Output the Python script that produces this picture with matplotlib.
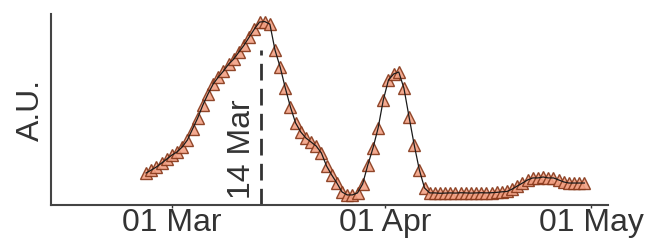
import numpy as np
import pandas as pd
import matplotlib
matplotlib.use("Agg")
import matplotlib.pyplot as plt
import matplotlib.dates as mdates

plt.rcParams["font.family"] = ["Liberation Sans", "DejaVu Sans"]

# muestras cada 18 h, desde el 26 Feb 06:00
start = "2020-02-26 06:00"
step_hours = 18
values = [17.5, 19.1, 20.8, 22.9, 25.1, 27.3, 29.0, 31.7, 35.5, 41.5,
          47.5, 54.6, 60.7, 66.1, 69.9, 73.2, 77.0, 79.8, 83.6, 87.4,
          91.8, 96.2, 100.0, 100.3, 98.9, 84.7, 75.4, 63.9, 53.5, 44.8,
          39.9, 36.6, 34.4, 32.2, 28.4, 21.3, 16.4, 12.0, 7.1, 5.5,
          5.5, 6.6, 11.5, 21.9, 31.1, 42.1, 57.4, 68.3, 71.6, 72.7,
          63.9, 48.1, 32.8, 19.1, 9.3, 6.6, 6.6, 6.4, 6.5, 6.6,
          6.5, 6.7, 6.6, 6.5, 6.6, 6.7, 6.6, 6.7, 6.9, 7.2,
          7.4, 8.7, 10.4, 12.0, 13.7, 14.8, 14.8, 15.3, 14.8, 14.8,
          13.7, 12.6, 12.0, 12.0, 12.0, 12.0]
dates = pd.date_range(start, periods=len(values), freq=f"{step_hours}h")

marker_date = pd.Timestamp("2020-03-14")
marker_label = "14 Mar"
marker_top = 85
tick_dates = ["2020-03-01", "2020-04-01", "2020-05-01"]

fig = plt.figure(figsize=(6.49, 2.42), dpi=100)
ax = fig.add_axes([0.0786, 0.153, 0.858, 0.789])

ax.plot(dates, values, ls="none", marker="^", ms=9, mfc="#f2a184",
        mec="#853719", mew=1.0, alpha=0.9, zorder=2)
ax.plot(dates, values, color="#1a1a1a", lw=0.9, zorder=3)

ax.vlines(marker_date, 0, marker_top, colors="#333333", linestyles=(0, (6, 3)), lw=2, zorder=1)
ax.annotate(marker_label, (marker_date, 0), xytext=(-3, 4), textcoords="offset points",
            rotation=90, ha="right", va="bottom", fontsize=23, color="#333333")

ax.set_xlim(pd.Timestamp("2020-02-12 10:00"), pd.Timestamp("2020-05-03 10:00"))
ax.set_ylim(0, 104.4)
ax.set_xticks(pd.to_datetime(tick_dates))
ax.xaxis.set_major_formatter(mdates.DateFormatter("%d %b"))
ax.set_yticks([])
ax.set_ylabel("A.U.", fontsize=23, color="#333333", labelpad=4)

for s in ["top", "right"]:
    ax.spines[s].set_visible(False)
for s in ["left", "bottom"]:
    ax.spines[s].set_color("#444444")
    ax.spines[s].set_linewidth(1.5)
ax.tick_params(axis="x", length=2, width=1, pad=0, labelsize=23, colors="#333333")

fig.savefig("out.png", dpi=100, facecolor="white")
